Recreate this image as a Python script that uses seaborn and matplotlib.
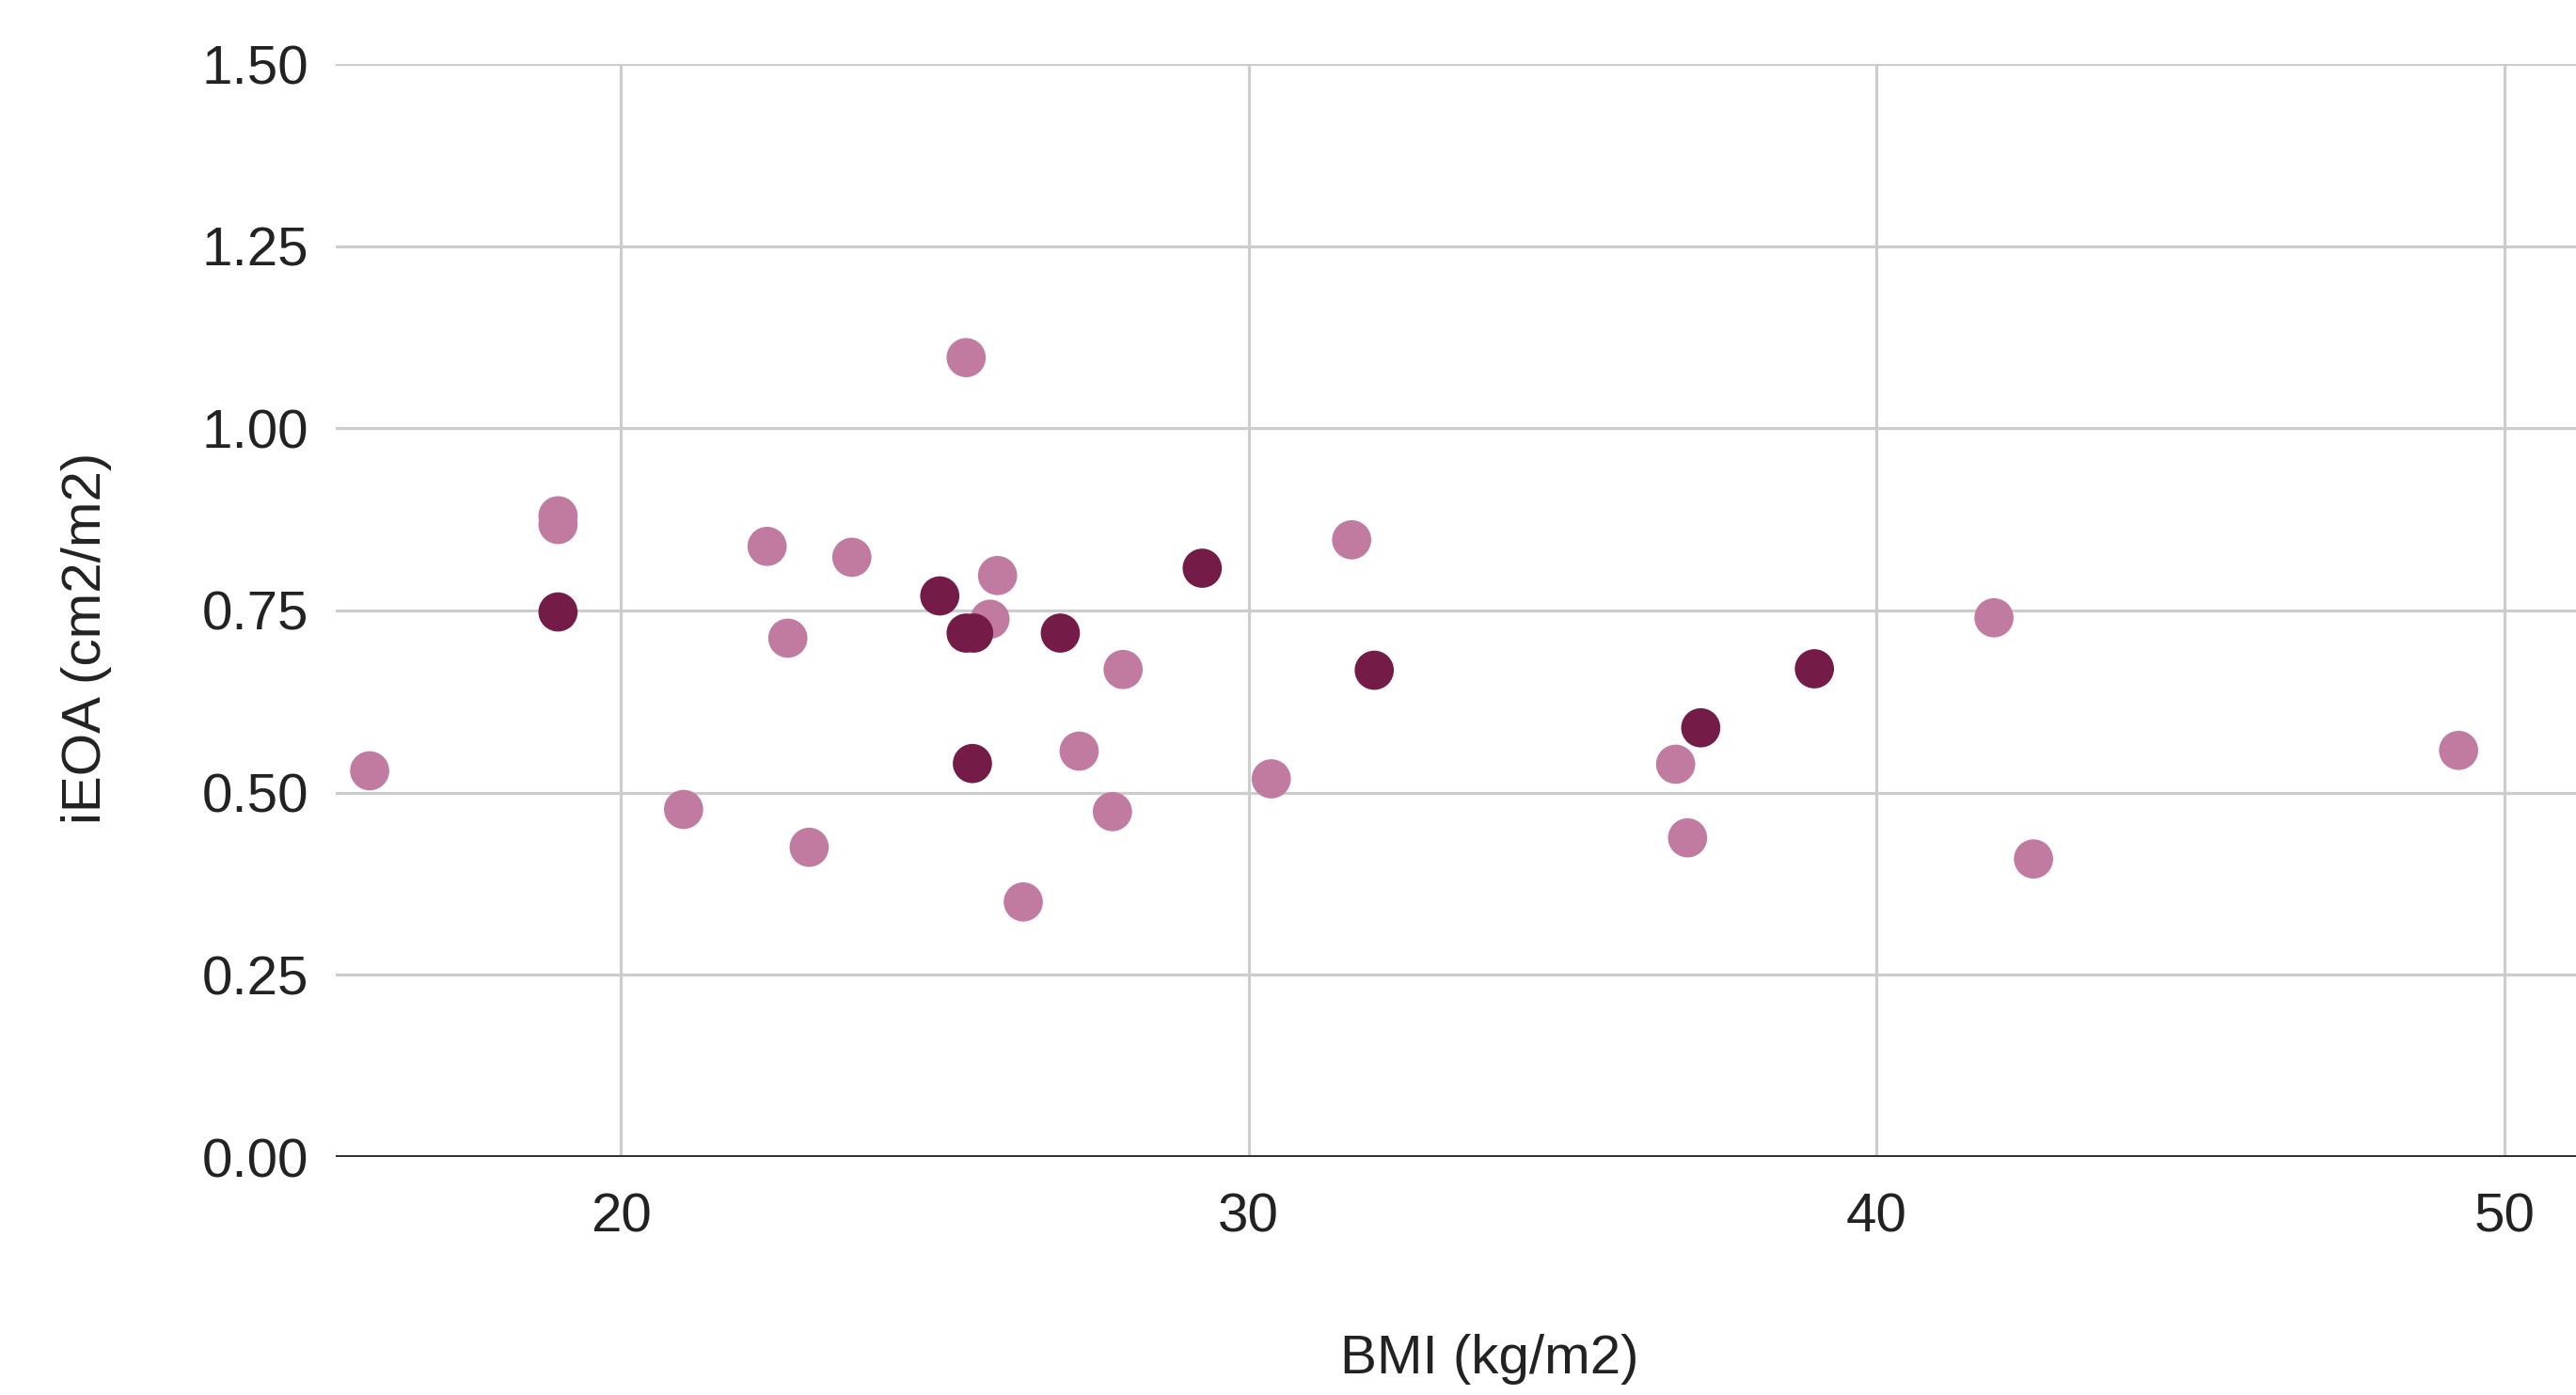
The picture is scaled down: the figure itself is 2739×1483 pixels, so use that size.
import matplotlib
matplotlib.use("Agg")
import matplotlib.pyplot as plt
import seaborn as sns
import pandas as pd

# ---- data ----
bmi_light = [16.0, 19.0, 19.0, 21.0, 22.33, 22.66, 23.0, 23.68, 25.5, 26.0, 25.88,
             26.41, 27.3, 27.83, 28.0, 30.36, 31.64, 36.8, 36.99, 41.87, 42.5, 49.27]
ieoa_light = [0.53, 0.88, 0.868, 0.477, 0.838, 0.712, 0.425, 0.823, 1.097, 0.798, 0.738,
              0.35, 0.557, 0.474, 0.669, 0.519, 0.847, 0.539, 0.438, 0.74, 0.409, 0.558]

bmi_dark = [19.0, 25.08, 25.5, 25.62, 25.6, 27.0, 29.26, 32.0, 37.2, 39.01]
ieoa_dark = [0.748, 0.770, 0.719, 0.719, 0.54, 0.719, 0.808, 0.668, 0.589, 0.670]

x_ticks = [20, 30, 40, 50]
y_ticks = [0.00, 0.25, 0.50, 0.75, 1.00, 1.25, 1.50]
y_tick_labels = ["0.00", "0.25", "0.50", "0.75", "1.00", "1.25", "1.50"]

colors = {"light": "#c27ba0", "dark": "#741b47"}

df = pd.DataFrame({
    "BMI": bmi_light + bmi_dark,
    "iEOA": ieoa_light + ieoa_dark,
    "group": ["light"] * len(bmi_light) + ["dark"] * len(bmi_dark),
})

sns.set_theme(style="white")
plt.rcParams["font.family"] = ["Liberation Sans", "DejaVu Sans"]

W, H = 2739, 1483
fig = plt.figure(figsize=(W / 100, H / 100), dpi=100)
left, right, top, bottom = 357, 2739, 68, 1230
ax = fig.add_axes([left / W, 1 - bottom / H, (right - left) / W, (bottom - top) / H])

sns.scatterplot(data=df, x="BMI", y="iEOA", hue="group", palette=colors,
                s=900, linewidth=0, alpha=1, legend=False, ax=ax, zorder=3)

ax.set_xlim(15.46, 51.14)
ax.set_ylim(0, 1.5)
ax.set_xticks(x_ticks)
ax.set_yticks(y_ticks)
ax.set_yticklabels(y_tick_labels)

ax.grid(True, color="#cccccc", linewidth=2.3, zorder=0)
ax.set_axisbelow(True)
for s in ax.spines.values():
    s.set_visible(False)
ax.axhline(0, color="#333333", linewidth=2.9, zorder=2)

ax.tick_params(axis="both", length=0, labelsize=42, colors="#222222")
ax.tick_params(axis="x", pad=27)
ax.tick_params(axis="y", pad=21)

ax.set_xlabel("BMI (kg/m2)", fontsize=42, color="#222222", va="center")
ax.set_ylabel("iEOA (cm2/m2)", fontsize=42, color="#222222", va="center")
ax.xaxis.set_label_coords(0.515, -0.185)
ax.yaxis.set_label_coords(-0.1113, 0.475)

fig.savefig("out.png", dpi=100, facecolor="white")
